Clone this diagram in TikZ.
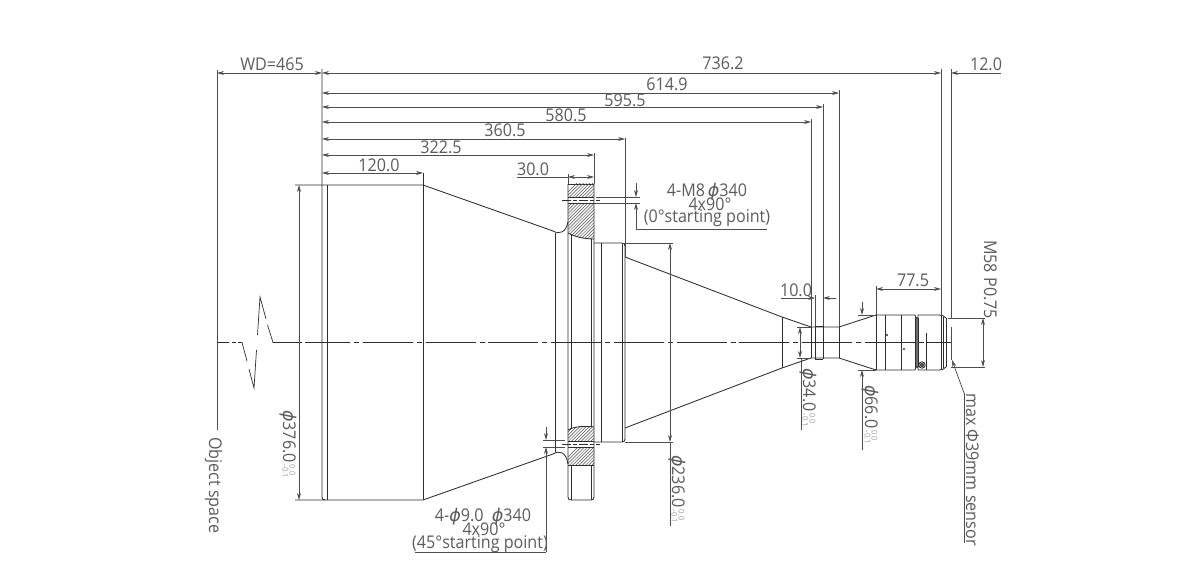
\documentclass[tikz,border=0pt]{standalone}
\usepackage{fontspec}
\setmainfont[FakeStretch=0.92]{Open Sans}
\newfontfamily\symfont{DejaVu Sans}
\usetikzlibrary{arrows.meta}
\definecolor{ink}{HTML}{2E2E2E}
\definecolor{lab}{HTML}{5C5C5C}
\definecolor{tolc}{HTML}{9A9A9A}
\newcommand{\phisym}{{\symfont\itshape ϕ}}
\newcommand{\tolstack}{\kern2pt\raisebox{-0.5pt}{\rlap{\color{tolc}\fontsize{8}{8}\selectfont\raisebox{7pt}{0.0}}\color{tolc}\fontsize{8}{8}\selectfont -0.1}}
\tikzset{
  outl/.style={draw=ink,line width=0.85pt},
  thin line/.style={draw=ink,line width=0.6pt},
  extl/.style={draw=ink!85,line width=0.75pt},
  dimline/.style={draw=ink!85,line width=0.75pt,{Stealth[length=7pt,width=4pt]}-{Stealth[length=7pt,width=4pt]}},
  dimend/.style={draw=ink!85,line width=0.75pt,-{Stealth[length=7pt,width=4pt]}},
  axisl/.style={draw=ink,line width=0.7pt},
  dimtxt/.style={text=lab,font=\fontsize{17.5}{17.5}\selectfont,inner sep=0pt,anchor=base},
  rottxt/.style={text=lab,font=\fontsize{17.5}{17.5}\selectfont,inner sep=0pt,rotate=-90,anchor=base west},
  hatchl/.style={draw=ink!85,line width=0.5pt},
}
\begin{document}
\begin{tikzpicture}[x=1pt,y=-1pt]
\useasboundingbox[fill=white] (0,0) rectangle (1200,580);

% centre line and break
\draw[axisl] (217,342.5) -- (229,342.5);
\draw[axisl] (232,342.5) -- (236,342.5);
\draw[axisl] (238,342.5) -- (242,342.5) -- (247,361);
\draw[axisl] (249,369) -- (254,388) -- (256.5,350);
\draw[axisl] (257.5,335) -- (260,297) -- (266,319);
\draw[axisl] (267.5,325) -- (273,342.5) -- (302,342.5);
\draw[axisl,dash pattern=on 50pt off 4pt on 5pt off 3.7pt,dash phase=4.7pt] (305,342.5) -- (951.5,342.5);

% datum lines
\draw[extl] (217,70) -- (217,430);
\draw[outl] (322,69) -- (322,497) .. controls (322,499) and (323,500) .. (325,500);
\draw[outl] (327,185) -- (327,500);

% first barrel
\draw[outl] (295,185) -- (423,185) -- (553,231);
\draw[outl] (295,500) -- (423,500) -- (553,454);
\draw[outl] (423,173) -- (423,500);
% fillet into flange
\draw[outl] (553,231) .. controls (560,235) and (566,232) .. (568,222);
\draw[outl] (553,454) .. controls (560,450) and (566,452) .. (568,464);
\draw[outl] (555,233) -- (555,452);

% flange
\draw[outl] (568,184) -- (594,184);
\draw[outl] (568,184) -- (568,497) .. controls (568,499) and (569,500) .. (571,500) -- (591,500) .. controls (593,500) and (594,499) .. (594,497) -- (594,184);
\draw[outl] (571,234) -- (571,429);
\draw[outl] (571,465) -- (571,500);
\draw[outl] (591,239) -- (591,427);
\draw[outl] (591,465) -- (591,500);

% hatching
\begin{scope}
\clip (568,184) rectangle (594,197);
\foreach \k in {0,3.2,...,60}{\draw[hatchl] (560+\k,200) -- (560+\k+24,176);}
\end{scope}
\begin{scope}
\clip (568,203) -- (594,203) -- (594,239) .. controls (585,239) and (575,237) .. (568,233) -- cycle;
\foreach \k in {0,3.2,...,90}{\draw[hatchl] (530+\k,245) -- (530+\k+50,195);}
\end{scope}
\begin{scope}
\clip (568,441) -- (594,441) -- (594,427) .. controls (585,426) and (575,426) .. (568,430) -- cycle;
\foreach \k in {0,3.2,...,60}{\draw[hatchl] (555+\k,445) -- (555+\k+24,421);}
\end{scope}
\begin{scope}
\clip (568,447) rectangle (594,465);
\foreach \k in {0,3.2,...,60}{\draw[hatchl] (555+\k,470) -- (555+\k+28,442);}
\end{scope}
\draw[outl] (568,233) .. controls (575,237) and (585,239) .. (594,239);
\draw[outl] (568,430) .. controls (575,426) and (585,426) .. (594,427);
\draw[outl] (568,465) -- (594,465);
\draw[outl] (568,197) -- (594,197);
\draw[outl] (568,203) -- (594,203);
\draw[outl] (568,441) -- (594,441);
\draw[outl] (568,447) -- (594,447);
\draw[thin line,dash pattern=on 9pt off 2pt on 4pt off 2pt] (562,200) -- (600,200);
\draw[thin line,dash pattern=on 9pt off 2pt on 4pt off 2pt] (562,444) -- (600,444);

% step behind flange
\draw[outl] (594,243) -- (622,243) .. controls (624,243) and (625,244) .. (625,246);
\draw[outl] (594,442) -- (622,442) .. controls (624,442) and (625,441) .. (625,439) -- (625,246);
\draw[outl] (601,243) -- (601,442);
\draw[outl] (622,243) -- (622,442);

% second cone
\draw[outl] (625,257) -- (782,317) -- (811,327);
\draw[outl] (625,428) -- (782,368) -- (811,358);
\draw[outl] (782,317) -- (782,368);

% neck
\draw[outl] (811,327) -- (839,327) -- (876,315);
\draw[outl] (811,358) -- (839,358) -- (876,370);
\draw[outl] (811,327) -- (811,358);
\draw[outl] (815,326) -- (815,359);
\draw[outl] (823,326) -- (823,359);
\draw[outl] (815,326) -- (823,326);
\draw[outl] (815,359) -- (823,359);
\draw[outl] (839,327) -- (839,358);

% rear barrel
\fill[ink!70] (915,317) rectangle (918,368);
\draw[outl] (876,315) -- (915,315) -- (916,318) -- (918,318) -- (918,315) -- (939,315) .. controls (942,315) and (944,316) .. (946,318);
\draw[outl] (876,370) -- (915,370) -- (916,367) -- (918,367) -- (918,370) -- (939,370) .. controls (942,370) and (944,369) .. (946,367);
\draw[outl] (876,315) -- (876,370);
\draw[outl] (885,315) -- (885,370);
\draw[outl] (901,315) -- (901,370);
\draw[outl] (915,318) -- (915,367);
\draw[outl] (918,318) -- (918,367);
\draw[outl] (941,315) -- (941,370);
\draw[outl] (943.5,317) -- (943.5,368);
\draw[outl] (946.5,318) -- (946.5,367);
\draw[outl] (926,333) -- (926,370);
\fill[ink] (887,335) circle (1.2pt);
\fill[ink] (904,349) circle (1.2pt);
\draw[outl] (922,365) circle (3.2pt);
\fill[ink!85] (922,365) circle (2.2pt);

% extension lines
\draw[extl] (625,138) -- (625,257);
\draw[extl] (594,153) -- (594,184);
\draw[extl] (568,174) -- (568,184);
\draw[extl] (811,119) -- (811,327);
\draw[extl] (823,104) -- (823,326);
\draw[extl] (839,90) -- (839,327);
\draw[extl] (941,69) -- (941,315);
\draw[extl] (951,69) -- (951,318);
\draw[extl] (951,327) -- (951,360);
\draw[extl] (815,295) -- (815,326);
\draw[extl] (876,286) -- (876,315);
\draw[extl] (622,243) -- (673,243);
\draw[extl] (625,442) -- (673,442);
\draw[extl] (858,315) -- (876,315);
\draw[extl] (858,370) -- (876,370);
\draw[extl] (797,327) -- (811,327);
\draw[extl] (797,358) -- (811,358);
\draw[extl] (948,318) -- (985,318);
\draw[extl] (951,367) -- (985,367);

% top dimensions
\draw[dimline] (217,73) -- (322,73);
\draw[dimline] (322,73) -- (941,73);
\draw[dimline] (322,93) -- (839,93);
\draw[dimline] (322,107) -- (823,107);
\draw[dimline] (322,122) -- (811,122);
\draw[dimline] (322,139) -- (625,139);
\draw[dimline] (322,155) -- (594,155);
\draw[dimline] (322,173) -- (423,173);
\draw[dimend] (1001,73) -- (951,73);
\draw[dimline] (568,177) -- (594,177);
\draw[extl] (517,177) -- (568,177);
\draw[dimline] (876,289) -- (941,289);
% 10.0
\draw[extl] (781,298) -- (800,298);
\draw[dimend] (800,298) -- (815,298);
\draw[dimend] (836,298) -- (823,298);

% vertical diameters
\draw[dimline] (299,185) -- (299,500);
\draw[dimline] (670,243) -- (670,442);
\draw[extl] (670,442) -- (670,526);
\draw[dimend] (800,343) -- (800,327);
\draw[dimend] (800,343) -- (800,358);
\draw[extl] (801,358) -- (801,430);
\draw[dimend] (862,302) -- (862,315);
\draw[dimend] (862,450) -- (862,370);
\draw[dimline] (983,318) -- (983,367);

% hole callouts
\draw[extl] (596,197) -- (640,197);
\draw[extl] (594,203) -- (640,203);
\draw[dimend] (636,183) -- (636,197);
\draw[dimend] (636,229) -- (636,203);
\draw[extl] (636,229) -- (767,229);
\draw[extl] (543,440) -- (565,440);
\draw[extl] (543,447) -- (565,447);
\draw[dimend] (546,427) -- (546,440);
\draw[dimend] (546,552) -- (546,447);
\draw[extl] (415,552) -- (546,552);
% sensor leader
\draw[dimend] (964,393) -- (952,360);
\draw[extl] (964,393) -- (964,543);

% labels
\node[dimtxt] (lwd) at (272,71) {WD=465};
\node[dimtxt] (l736) at (723,70) {736.2};
\node[dimtxt] (l12) at (986,71) {12.0};
\node[dimtxt] (l614) at (667,91) {614.9};
\node[dimtxt] (l595) at (625,107) {595.5};
\node[dimtxt] (l580) at (566,122) {580.5};
\node[dimtxt] (l360) at (505,137) {360.5};
\node[dimtxt] (l322) at (441,154) {322.5};
\node[dimtxt] (l120) at (379,172) {120.0};
\node[dimtxt] (l30) at (533,176) {30.0};
\node[dimtxt] (l775) at (913,287) {77.5};
\node[dimtxt] (l10) at (796,296) {10.0};
\node[dimtxt] (tm8) at (707,197) {4-M8\,\phisym340};
\node[dimtxt] (t4a) at (710,211) {4x90°};
\node[dimtxt] (t0) at (707,223) {(0°starting point)};
\node[dimtxt] (tm9) at (483,521) {4-\phisym9.0\ \ \phisym340};
\node[dimtxt] (t4b) at (484,535) {4x90°};
\node[dimtxt] (t45) at (480,548) {(45°starting point)};
\node[rottxt] (lobj) at (209,437) {Object space};
\node[rottxt] (l376) at (283,410) {\phisym376.0\tolstack};
\node[rottxt] (l236) at (672,455) {\phisym236.0\tolstack};
\node[rottxt] (l34) at (803,368) {\phisym34.0\tolstack};
\node[rottxt] (l66) at (865,385) {\phisym66.0\tolstack};
\node[rottxt] (lm58) at (984,240) {M58 P0.75};
\node[rottxt] (lmax) at (966,393) {max Φ39mm sensor};
\end{tikzpicture}
\end{document}
